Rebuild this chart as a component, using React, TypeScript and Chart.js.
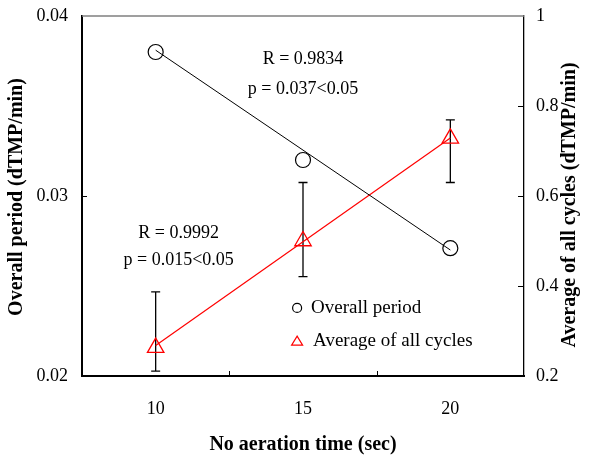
import React, { useEffect, useRef } from "react";
import { Chart, registerables } from "chart.js";

Chart.register(...registerables);

// ---- data ----
const xValues = [10, 15, 20];
const overallPeriod = [0.038, 0.032, 0.0271];
const avgCycles = [0.263, 0.5, 0.728];
const avgHigh = [0.387, 0.63, 0.769];
const avgLow = [0.211, 0.421, 0.63];
const trendX = [10, 20];
const overallTrend = [0.0381, 0.0270];
const avgTrend = [0.268, 0.729];
const xTickLabels = [10, 15, 20];
const xMinorTicks = [12.5, 17.5];
const leftTicks = [0.02, 0.03, 0.04];
const rightTicks = [0.2, 0.4, 0.6, 0.8, 1];
const seriesNames = ["Overall period", "Average of all cycles"];
const fitTexts1 = ["R = 0.9834", "p = 0.037<0.05"];
const fitTexts2 = ["R = 0.9992", "p = 0.015<0.05"];
const xTitle = "No aeration time (sec)";
const yLeftTitle = "Overall period (dTMP/min)";
const yRightTitle = "Average of all cycles (dTMP/min)";

const SERIF = '"Liberation Serif", "Times New Roman", serif';

const decor = {
  id: "decor",
  beforeDatasetsDraw(chart: any) {
    const ctx = chart.ctx;
    const xs = chart.scales.x;
    const y1 = chart.scales.y1;
    ctx.save();
    ctx.strokeStyle = "#000";
    ctx.lineWidth = 1.3;
    xValues.forEach((xv, i) => {
      const px = xs.getPixelForValue(xv);
      const top = y1.getPixelForValue(avgHigh[i]);
      const bot = y1.getPixelForValue(avgLow[i]);
      ctx.beginPath();
      ctx.moveTo(px, top);
      ctx.lineTo(px, bot);
      ctx.moveTo(px - 4.5, top);
      ctx.lineTo(px + 4.5, top);
      ctx.moveTo(px - 4.5, bot);
      ctx.lineTo(px + 4.5, bot);
      ctx.stroke();
    });
    ctx.restore();
  },
  afterDraw(chart: any) {
    const ctx = chart.ctx;
    const { left, right, top, bottom } = chart.chartArea;
    const xs = chart.scales.x;
    const yl = chart.scales.y;
    const yr = chart.scales.y1;
    ctx.save();
    // top border (gray)
    ctx.strokeStyle = "#7f7f7f";
    ctx.lineWidth = 1.4;
    ctx.beginPath();
    ctx.moveTo(left, top);
    ctx.lineTo(right, top);
    ctx.stroke();
    // inward tick marks
    ctx.strokeStyle = "#000";
    ctx.lineWidth = 1;
    ctx.beginPath();
    xMinorTicks.forEach((v) => {
      const px = Math.round(xs.getPixelForValue(v)) + 0.5;
      ctx.moveTo(px, bottom);
      ctx.lineTo(px, bottom - 5);
    });
    leftTicks.slice(1, -1).forEach((v) => {
      const py = Math.round(yl.getPixelForValue(v)) + 0.5;
      ctx.moveTo(left, py);
      ctx.lineTo(left + 5, py);
    });
    rightTicks.slice(1, -1).forEach((v) => {
      const py = Math.round(yr.getPixelForValue(v)) + 0.5;
      ctx.moveTo(right, py);
      ctx.lineTo(right - 6, py);
    });
    ctx.stroke();

    // axis titles
    ctx.fillStyle = "#000";
    ctx.font = `bold 20px ${SERIF}`;
    ctx.textAlign = "center";
    ctx.textBaseline = "middle";
    ctx.fillText(xTitle, 303, 445);
    ctx.save();
    ctx.translate(17, 197);
    ctx.rotate(-Math.PI / 2);
    ctx.fillText(yLeftTitle, 0, 0);
    ctx.restore();
    ctx.save();
    ctx.translate(570, 205);
    ctx.rotate(-Math.PI / 2);
    ctx.fillText(yRightTitle, 0, 0);
    ctx.restore();

    // fit annotations
    ctx.font = `18px ${SERIF}`;
    ctx.textAlign = "center";
    ctx.textBaseline = "middle";
    const a1x = xs.getPixelForValue(15);
    ctx.fillText(fitTexts1[0], a1x, yl.getPixelForValue(0.03761));
    ctx.fillText(fitTexts1[1], a1x, yl.getPixelForValue(0.03594));
    const a2x = xs.getPixelForValue(10.78);
    ctx.fillText(fitTexts2[0], a2x, yr.getPixelForValue(0.518));
    ctx.fillText(fitTexts2[1], a2x, yr.getPixelForValue(0.458));

    // legend
    ctx.font = `19px ${SERIF}`;
    const lx = xs.getPixelForValue(14.8);
    const ly1 = yl.getPixelForValue(0.02378);
    const ly2 = yl.getPixelForValue(0.02194);
    ctx.lineWidth = 1.2;
    ctx.strokeStyle = "#000";
    ctx.beginPath();
    ctx.arc(lx, ly1, 4.5, 0, Math.PI * 2);
    ctx.stroke();
    ctx.strokeStyle = "#ff0000";
    ctx.beginPath();
    ctx.moveTo(lx, ly2 - 5);
    ctx.lineTo(lx + 5.5, ly2 + 4);
    ctx.lineTo(lx - 5.5, ly2 + 4);
    ctx.closePath();
    ctx.stroke();
    ctx.textAlign = "left";
    ctx.fillStyle = "#000";
    ctx.fillText(seriesNames[0], lx + 14, ly1);
    ctx.fillText(seriesNames[1], lx + 16, ly2);
    ctx.restore();
  },
};

export default function App() {
  const ref = useRef<HTMLCanvasElement | null>(null);
  useEffect(() => {
    if (!ref.current) return;
    const tickFont = { family: SERIF, size: 18 };
    const chart = new Chart(ref.current, {
      type: "scatter",
      data: {
        datasets: [
          {
            label: seriesNames[0] + " fit",
            data: trendX.map((x, i) => ({ x, y: overallTrend[i] })),
            yAxisID: "y",
            showLine: true,
            pointRadius: 0,
            borderColor: "#000",
            borderWidth: 1,
          },
          {
            label: seriesNames[1] + " fit",
            data: trendX.map((x, i) => ({ x, y: avgTrend[i] })),
            yAxisID: "y1",
            showLine: true,
            pointRadius: 0,
            borderColor: "#ff0000",
            borderWidth: 1.2,
          },
          {
            label: seriesNames[0],
            data: xValues.map((x, i) => ({ x, y: overallPeriod[i] })),
            yAxisID: "y",
            pointStyle: "circle",
            pointRadius: 7.5,
            pointBorderWidth: 1.2,
            borderColor: "#000",
            backgroundColor: "rgba(0,0,0,0)",
          },
          {
            label: seriesNames[1],
            data: xValues.map((x, i) => ({ x, y: avgCycles[i] })),
            yAxisID: "y1",
            pointStyle: "triangle",
            pointRadius: 9.5,
            pointBorderWidth: 1.3,
            borderColor: "#ff0000",
            backgroundColor: "rgba(0,0,0,0)",
          },
        ],
      },
      options: {
        animation: false,
        responsive: false,
        maintainAspectRatio: false,
        layout: { padding: { top: 16, left: 0, right: 0, bottom: 0 } },
        plugins: { legend: { display: false }, tooltip: { enabled: false } },
        scales: {
          x: {
            type: "linear",
            min: 7.5,
            max: 22.5,
            afterBuildTicks: (s: any) => {
              s.ticks = xTickLabels.map((v) => ({ value: v }));
            },
            afterFit: (s: any) => {
              s.height = 81;
              s.paddingLeft = 0;
              s.paddingRight = 0;
            },
            grid: { display: false, drawTicks: false },
            border: { display: true, color: "#000", width: 2 },
            ticks: { font: tickFont, color: "#000", padding: 22, maxRotation: 0, autoSkip: false },
          },
          y: {
            type: "linear",
            position: "left",
            min: 0.02,
            max: 0.04,
            afterBuildTicks: (s: any) => {
              s.ticks = leftTicks.map((v) => ({ value: v }));
            },
            afterFit: (s: any) => {
              s.width = 82;
              s.paddingTop = 0;
              s.paddingBottom = 0;
            },
            grid: { display: false, drawTicks: false },
            border: { display: true, color: "#000", width: 2 },
            ticks: {
              font: tickFont,
              color: "#000",
              padding: 14,
              callback: (v: any) => Number(v).toFixed(2),
            },
          },
          y1: {
            type: "linear",
            position: "right",
            min: 0.2,
            max: 1,
            afterBuildTicks: (s: any) => {
              s.ticks = rightTicks.map((v) => ({ value: v }));
            },
            afterFit: (s: any) => {
              s.width = 65;
              s.paddingTop = 0;
              s.paddingBottom = 0;
            },
            grid: { display: false, drawTicks: false },
            border: { display: true, color: "#000", width: 1.3 },
            ticks: {
              font: tickFont,
              color: "#000",
              padding: 12,
              callback: (v: any) => String(Number(v)),
            },
          },
        },
      },
      plugins: [decor],
    } as any);
    return () => chart.destroy();
  }, []);
  return (
    <div style={{ position: "fixed", left: 0, top: 0, width: 589, height: 457, background: "#fff" }}>
      <canvas ref={ref} width={589} height={457} style={{ width: 589, height: 457 }} />
    </div>
  );
}
